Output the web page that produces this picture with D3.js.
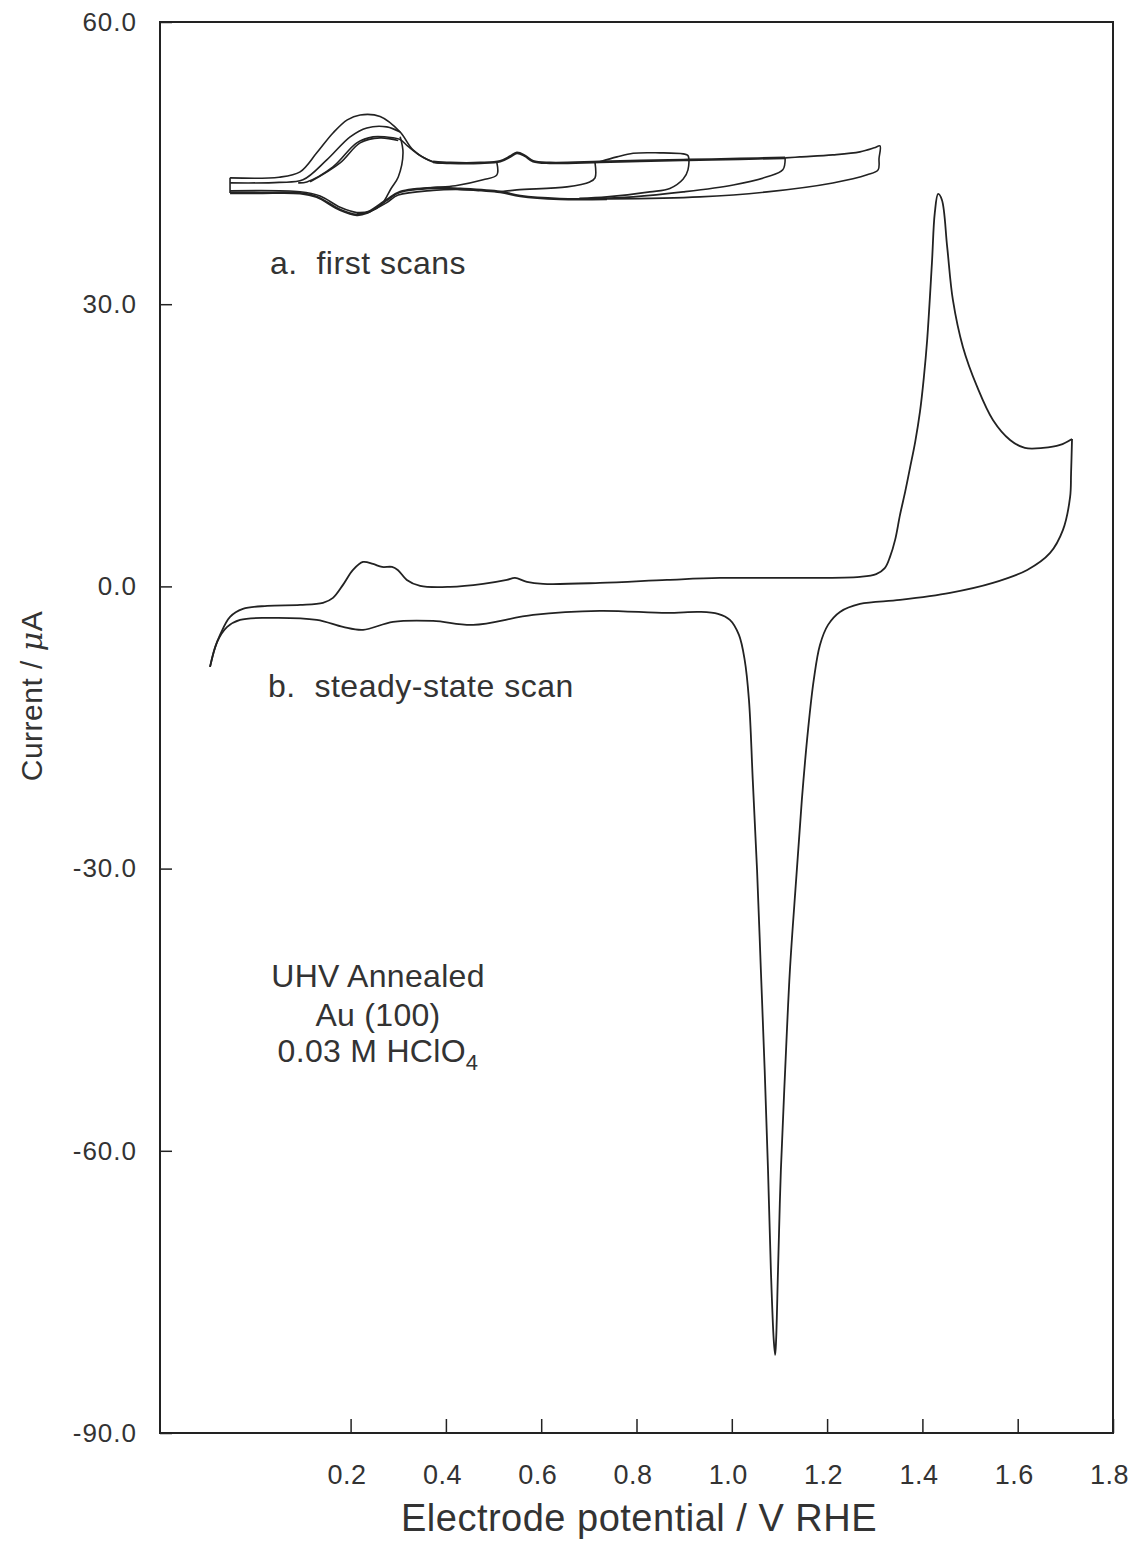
<!DOCTYPE html>
<html>
<head>
<meta charset="utf-8">
<script src="https://cdn.jsdelivr.net/npm/d3@7"></script>
<style>
body { margin: 0; background: #fff; }
text { font-family: "Liberation Sans", Arial, sans-serif; fill: #333; }
</style>
</head>
<body>
<svg width="1131" height="1543"></svg>
<script>

// tick values
var xTicks = [0.2, 0.4, 0.6, 0.8, 1.0, 1.2, 1.4, 1.6, 1.8];
var yTicks = [60, 30, 0, -30, -60, -90];

// b. steady-state scan  [E / V, I / uA]
var bAnodic = [[-0.095,-8.56],[-0.085,-6.6],[-0.074,-5.16],[-0.053,-3.24],[-0.026,-2.39],[0.025,-2.07],
  [0.094,-1.97],[0.142,-1.75],[0.163,-1.22],[0.184,0.16],[0.205,1.75],[0.226,2.60],[0.247,2.39],
  [0.266,2.07],[0.287,2.07],[0.299,1.75],[0.318,0.69],[0.346,0.05],[0.409,-0.05],[0.478,0.27],
  [0.528,0.69],[0.545,0.90],[0.570,0.48],[0.604,0.27],[0.723,0.37],[0.864,0.69],[0.975,0.90],
  [1.143,0.90],[1.269,1.01],[1.303,1.3],[1.321,1.94],[1.332,3.14],[1.343,5.0],[1.353,7.6],
  [1.364,10.1],[1.374,12.6],[1.385,15.4],[1.395,18.6],[1.403,22.2],[1.410,26.20],[1.420,34.38],
  [1.426,39.70],[1.433,41.72],[1.441,41.08],[1.452,36.09],[1.464,30.45],[1.485,25.46],[1.515,21.21],
  [1.548,17.70],[1.584,15.57],[1.615,14.72],[1.653,14.72],[1.689,15.04],[1.714,15.68]];
var bCathodic = [[1.714,15.68],[1.712,12.0],[1.710,9.51],[1.695,6.01],[1.668,3.56],[1.620,1.75],
  [1.548,0.37],[1.458,-0.69],[1.353,-1.44],[1.269,-1.86],[1.227,-2.71],[1.202,-4.09],[1.185,-6.22],
  [1.172,-9.94],[1.160,-15.25],[1.147,-22.69],[1.135,-31.20],[1.122,-40.77],[1.112,-51.40],
  [1.103,-62.03],[1.097,-72.66],[1.093,-80.10],[1.091,-81.70],[1.088,-80.10],[1.082,-72.66],
  [1.076,-62.03],[1.069,-51.40],[1.061,-40.77],[1.053,-30.14],[1.044,-20.57],[1.036,-12.06],
  [1.027,-7.81],[1.015,-5.16],[0.996,-3.56],[0.971,-2.92],[0.933,-2.71],[0.864,-2.82],[0.723,-2.60],
  [0.583,-3.03],[0.457,-4.09],[0.373,-3.67],[0.289,-3.77],[0.226,-4.62],[0.184,-4.31],[0.129,-3.56],
  [0.025,-3.35],[-0.032,-3.56],[-0.059,-4.31],[-0.080,-5.90],[-0.095,-8.56]];

// a. first scans (as plotted, offset upward)
var aScan1 = [[-0.053,43.43],[0.050,43.5],[0.094,44.07],[0.129,46.09],[0.163,48.2],[0.193,49.6],
  [0.220,50.12],[0.262,49.95],[0.304,48.3],[0.331,46.4],[0.373,45.13],[0.409,45.02]];
var aScan2 = [[-0.053,42.9],[0.050,42.95],[0.100,43.22],[0.150,45.34],[0.199,47.79],[0.234,48.74],
  [0.276,48.85],[0.304,48.3]];
var aScan3 = [[0.090,42.9],[0.108,43.0],[0.163,44.6],[0.213,47.15],[0.247,47.79],[0.289,47.68],
  [0.304,47.5],[0.320,46.8],[0.346,45.8],[0.373,45.13]];
var aScan4 = [[0.115,43.0],[0.178,45.02],[0.220,47.15],[0.262,47.68],[0.300,47.4]];
var aRev03 = [[0.304,47.8],[0.310,46.09],[0.300,43.53],[0.285,42.3],[0.265,40.6],[0.240,39.8],[0.213,39.6]];
var aBase = [[0.373,45.13],[0.409,45.02],[0.472,45.02],[0.514,45.2],[0.535,45.7],[0.549,46.09],
  [0.566,45.77],[0.583,45.2],[0.618,45.02],[0.723,45.13],[0.807,45.24],[0.908,45.34],[1.017,45.45],
  [1.112,45.56]];
var aRev05 = [[0.507,45.02],[0.507,43.75],[0.478,43.22],[0.420,42.6],[0.373,42.4],[0.330,42.2]];
var aRev07 = [[0.713,45.02],[0.713,43.43],[0.702,43.0],[0.654,42.47],[0.549,42.15],[0.514,41.94]];
var aRev09 = [[0.723,45.13],[0.759,45.66],[0.793,46.05],[0.849,46.09],[0.898,45.98],[0.908,45.8],
  [0.908,44.28],[0.898,43.3],[0.870,42.3],[0.828,41.94],[0.738,41.41],[0.680,41.25]];
var aRev11 = [[1.112,45.56],[1.107,44.28],[1.074,43.54],[1.003,42.68],[0.898,41.94],[0.793,41.41],
  [0.700,41.2]];
var aRev13 = [[1.112,45.56],[1.143,45.66],[1.212,45.87],[1.269,46.19],[1.299,46.62],[1.311,46.83],
  [1.309,45.5],[1.307,44.28],[1.284,43.75],[1.212,42.89],[1.074,41.94],[0.933,41.41],[0.738,41.19],
  [0.639,41.19]];
var aLower = [[0.738,41.19],[0.639,41.19],[0.556,41.5],[0.514,41.94],[0.430,42.26],[0.373,42.36],
  [0.304,41.94],[0.276,41.09],[0.234,39.71],[0.213,39.5],[0.178,40.03],[0.129,41.41],[0.094,41.8],
  [0.010,41.83],[-0.053,41.83]];
var aLower2 = [[0.470,42.1],[0.420,42.2],[0.373,42.1],[0.300,41.6],[0.276,40.8],[0.241,39.9],
  [0.213,39.75],[0.178,40.3],[0.136,41.5],[0.094,41.95],[-0.053,42.05]];
var aLeft = [[-0.053,41.83],[-0.053,43.43]];

var svg = d3.select("svg"),
    width = +svg.attr("width"),
    height = +svg.attr("height");

var mLeft = 160, mTop = 22, mRight = 1113, mBottom = 1433;

var x = d3.scaleLinear().domain([-0.2, 1.8]).range([mLeft, mRight]);
var y = d3.scaleLinear().domain([-90, 60]).range([mBottom, mTop]);

var line = d3.line()
    .x(function(d) { return x(d[0]); })
    .y(function(d) { return y(d[1]); })
    .curve(d3.curveCatmullRom.alpha(0.5));

svg.append("rect")
    .attr("x", mLeft).attr("y", mTop)
    .attr("width", mRight - mLeft).attr("height", mBottom - mTop)
    .attr("fill", "none").attr("stroke", "#222").attr("stroke-width", 2);

var yAxis = svg.append("g")
    .attr("transform", "translate(" + mLeft + ",0)")
    .call(d3.axisLeft(y).tickValues(yTicks)
      .tickFormat(function(d) { return d.toFixed(1); })
      .tickSizeInner(-12).tickSizeOuter(0).tickPadding(23));
yAxis.select(".domain").remove();
yAxis.selectAll("line").attr("stroke", "#222").attr("stroke-width", 1.5);
yAxis.selectAll("text").attr("font-size", 26).attr("letter-spacing", 1)
    .attr("font-family", "Liberation Sans, Arial, sans-serif").attr("fill", "#333");

var xAxis = svg.append("g")
    .attr("transform", "translate(0," + mBottom + ")")
    .call(d3.axisBottom(x).tickValues(xTicks)
      .tickFormat(function(d) { return d.toFixed(1); })
      .tickSizeInner(-14).tickSizeOuter(0).tickPadding(32));
xAxis.select(".domain").remove();
xAxis.selectAll("line").attr("stroke", "#222").attr("stroke-width", 1.5);
xAxis.selectAll("text").attr("font-size", 27).attr("letter-spacing", 0.5).attr("dx", -4)
    .attr("font-family", "Liberation Sans, Arial, sans-serif").attr("fill", "#333");

// curves
var aCurves = [aScan1, aScan2, aScan3, aScan4, aRev03, aBase, aRev05, aRev07, aRev09, aRev11, aRev13, aLower, aLower2, aLeft];
svg.append("g").selectAll("path")
  .data(aCurves)
  .enter().append("path")
    .attr("d", line)
    .attr("fill", "none")
    .attr("stroke", "#222")
    .attr("stroke-width", function(d, i) { return (i == 5 || i == 11) ? 2.6 : 1.6; });

svg.append("g").selectAll("path")
  .data([bAnodic, bCathodic])
  .enter().append("path")
    .attr("d", line)
    .attr("fill", "none")
    .attr("stroke", "#222")
    .attr("stroke-width", 1.8);

// labels
svg.append("text")
    .attr("x", 639).attr("y", 1531)
    .attr("text-anchor", "middle").attr("font-size", 38).attr("letter-spacing", 0.5)
    .text("Electrode potential / V RHE");

var yl = svg.append("text")
    .attr("transform", "translate(42,696) rotate(-90)")
    .attr("text-anchor", "middle").attr("font-size", 30).attr("letter-spacing", 0.5);
yl.append("tspan").text("Current / ");
yl.append("tspan").attr("font-style", "italic").attr("font-family", "DejaVu Serif, serif").text("\u03bc");
yl.append("tspan").text("A");

svg.append("text")
    .attr("x", 270).attr("y", 274).attr("font-size", 32).attr("letter-spacing", 0.5)
    .style("white-space", "pre")
    .text("a.  first scans");

svg.append("text")
    .attr("x", 268).attr("y", 697).attr("font-size", 32).attr("letter-spacing", 0.5)
    .style("white-space", "pre")
    .text("b.  steady-state scan");

var note = svg.append("text")
    .attr("text-anchor", "middle").attr("font-size", 32).attr("letter-spacing", 0.3);
note.append("tspan").attr("x", 378).attr("y", 987).text("UHV Annealed");
note.append("tspan").attr("x", 378).attr("y", 1026).text("Au (100)");
note.append("tspan").attr("x", 378).attr("y", 1062).text("0.03 M HClO");
note.append("tspan").attr("dy", 8).attr("font-size", 22).text("4");

</script>
</body>
</html>
